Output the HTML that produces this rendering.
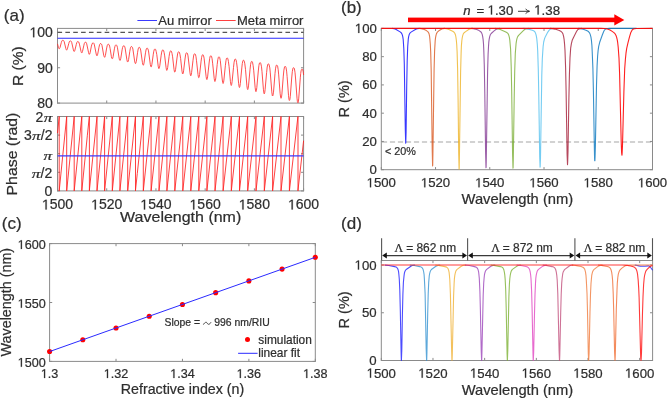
<!DOCTYPE html>
<html><head><meta charset="utf-8"><style>
html,body{margin:0;padding:0;background:#fff;overflow:hidden;}
svg{display:block;will-change:transform;filter:blur(0.3px);}
text{stroke:#2e2e2e;stroke-width:0.22px;}
</style></head><body>
<svg width="668" height="399" viewBox="0 0 668 399"><text x="3.85" y="21.00" font-size="17" text-anchor="start" fill="#2e2e2e" font-family="'Liberation Sans', sans-serif" >(a)</text>
<line x1="137.40" y1="20.50" x2="157.00" y2="20.50" stroke="#3a3aff" stroke-width="1.0" />
<text x="158.30" y="25.20" font-size="13" text-anchor="start" fill="#2e2e2e" font-family="'Liberation Sans', sans-serif" >Au mirror</text>
<line x1="216.00" y1="20.50" x2="235.70" y2="20.50" stroke="#ff4040" stroke-width="1.0" />
<text x="237.00" y="25.20" font-size="13" text-anchor="start" fill="#2e2e2e" font-family="'Liberation Sans', sans-serif" >Meta mirror</text>
<line x1="57.50" y1="103.10" x2="303.60" y2="103.10" stroke="#8a8a8a" stroke-width="1.0" />
<line x1="57.50" y1="103.60" x2="57.50" y2="27.90" stroke="#8a8a8a" stroke-width="1.0" />
<line x1="303.60" y1="103.60" x2="303.60" y2="27.90" stroke="#8a8a8a" stroke-width="1.0" />
<line x1="57.50" y1="28.40" x2="303.60" y2="28.40" stroke="#8a8a8a" stroke-width="1.0" />
<line x1="57.50" y1="103.10" x2="57.50" y2="100.50" stroke="#8a8a8a" stroke-width="1.0" />
<line x1="57.50" y1="28.40" x2="57.50" y2="31.00" stroke="#8a8a8a" stroke-width="1.0" />
<line x1="106.72" y1="103.10" x2="106.72" y2="100.50" stroke="#8a8a8a" stroke-width="1.0" />
<line x1="106.72" y1="28.40" x2="106.72" y2="31.00" stroke="#8a8a8a" stroke-width="1.0" />
<line x1="155.94" y1="103.10" x2="155.94" y2="100.50" stroke="#8a8a8a" stroke-width="1.0" />
<line x1="155.94" y1="28.40" x2="155.94" y2="31.00" stroke="#8a8a8a" stroke-width="1.0" />
<line x1="205.16" y1="103.10" x2="205.16" y2="100.50" stroke="#8a8a8a" stroke-width="1.0" />
<line x1="205.16" y1="28.40" x2="205.16" y2="31.00" stroke="#8a8a8a" stroke-width="1.0" />
<line x1="254.38" y1="103.10" x2="254.38" y2="100.50" stroke="#8a8a8a" stroke-width="1.0" />
<line x1="254.38" y1="28.40" x2="254.38" y2="31.00" stroke="#8a8a8a" stroke-width="1.0" />
<line x1="303.60" y1="103.10" x2="303.60" y2="100.50" stroke="#8a8a8a" stroke-width="1.0" />
<line x1="303.60" y1="28.40" x2="303.60" y2="31.00" stroke="#8a8a8a" stroke-width="1.0" />
<line x1="57.50" y1="103.10" x2="60.10" y2="103.10" stroke="#8a8a8a" stroke-width="1.0" />
<line x1="303.60" y1="103.10" x2="301.00" y2="103.10" stroke="#8a8a8a" stroke-width="1.0" />
<line x1="57.50" y1="67.75" x2="60.10" y2="67.75" stroke="#8a8a8a" stroke-width="1.0" />
<line x1="303.60" y1="67.75" x2="301.00" y2="67.75" stroke="#8a8a8a" stroke-width="1.0" />
<line x1="57.50" y1="32.39" x2="60.10" y2="32.39" stroke="#8a8a8a" stroke-width="1.0" />
<line x1="303.60" y1="32.39" x2="301.00" y2="32.39" stroke="#8a8a8a" stroke-width="1.0" />
<line x1="57.50" y1="190.90" x2="303.60" y2="190.90" stroke="#8a8a8a" stroke-width="1.0" />
<line x1="57.50" y1="191.40" x2="57.50" y2="116.00" stroke="#8a8a8a" stroke-width="1.0" />
<line x1="303.60" y1="191.40" x2="303.60" y2="116.00" stroke="#8a8a8a" stroke-width="1.0" />
<line x1="57.50" y1="116.50" x2="303.60" y2="116.50" stroke="#8a8a8a" stroke-width="1.0" />
<line x1="57.50" y1="190.90" x2="57.50" y2="188.30" stroke="#8a8a8a" stroke-width="1.0" />
<line x1="57.50" y1="116.50" x2="57.50" y2="119.10" stroke="#8a8a8a" stroke-width="1.0" />
<line x1="106.72" y1="190.90" x2="106.72" y2="188.30" stroke="#8a8a8a" stroke-width="1.0" />
<line x1="106.72" y1="116.50" x2="106.72" y2="119.10" stroke="#8a8a8a" stroke-width="1.0" />
<line x1="155.94" y1="190.90" x2="155.94" y2="188.30" stroke="#8a8a8a" stroke-width="1.0" />
<line x1="155.94" y1="116.50" x2="155.94" y2="119.10" stroke="#8a8a8a" stroke-width="1.0" />
<line x1="205.16" y1="190.90" x2="205.16" y2="188.30" stroke="#8a8a8a" stroke-width="1.0" />
<line x1="205.16" y1="116.50" x2="205.16" y2="119.10" stroke="#8a8a8a" stroke-width="1.0" />
<line x1="254.38" y1="190.90" x2="254.38" y2="188.30" stroke="#8a8a8a" stroke-width="1.0" />
<line x1="254.38" y1="116.50" x2="254.38" y2="119.10" stroke="#8a8a8a" stroke-width="1.0" />
<line x1="303.60" y1="190.90" x2="303.60" y2="188.30" stroke="#8a8a8a" stroke-width="1.0" />
<line x1="303.60" y1="116.50" x2="303.60" y2="119.10" stroke="#8a8a8a" stroke-width="1.0" />
<line x1="57.50" y1="190.90" x2="60.10" y2="190.90" stroke="#8a8a8a" stroke-width="1.0" />
<line x1="303.60" y1="190.90" x2="301.00" y2="190.90" stroke="#8a8a8a" stroke-width="1.0" />
<line x1="57.50" y1="172.30" x2="60.10" y2="172.30" stroke="#8a8a8a" stroke-width="1.0" />
<line x1="303.60" y1="172.30" x2="301.00" y2="172.30" stroke="#8a8a8a" stroke-width="1.0" />
<line x1="57.50" y1="153.70" x2="60.10" y2="153.70" stroke="#8a8a8a" stroke-width="1.0" />
<line x1="303.60" y1="153.70" x2="301.00" y2="153.70" stroke="#8a8a8a" stroke-width="1.0" />
<line x1="57.50" y1="135.10" x2="60.10" y2="135.10" stroke="#8a8a8a" stroke-width="1.0" />
<line x1="303.60" y1="135.10" x2="301.00" y2="135.10" stroke="#8a8a8a" stroke-width="1.0" />
<line x1="57.50" y1="116.50" x2="60.10" y2="116.50" stroke="#8a8a8a" stroke-width="1.0" />
<line x1="303.60" y1="116.50" x2="301.00" y2="116.50" stroke="#8a8a8a" stroke-width="1.0" />
<line x1="57.5" y1="32.39" x2="303.6" y2="32.39" stroke="#555555" stroke-width="1.1" stroke-dasharray="4.6 3.26"/>
<line x1="57.50" y1="38.20" x2="303.60" y2="38.20" stroke="#2a2aff" stroke-width="1.1" />
<path d="M57.5,43.9L58.5,47.7L58.9,48.6L59.1,48.7L59.3,48.7L59.7,48.3L60.1,47.3L61.3,42.6L61.8,41.1L62.4,40.3L62.8,40.3L63.3,40.4L63.8,40.8L64.2,41.7L65.9,48.7L66.3,49.7L66.7,50.1L67.0,49.8L67.4,48.8L68.8,43.4L69.3,41.8L69.9,41.0L70.2,40.9L70.7,40.9L71.2,41.4L71.7,42.4L73.4,49.9L73.8,51.1L74.2,51.5L74.5,51.2L74.9,50.2L76.3,44.4L76.9,42.4L77.4,41.6L77.7,41.5L78.2,41.6L78.7,42.0L79.1,43.0L79.6,44.9L81.0,51.3L81.4,52.5L81.6,52.8L81.8,52.9L82.1,52.6L82.5,51.4L83.9,45.2L84.4,43.3L85.0,42.3L85.3,42.2L85.8,42.2L86.3,42.7L86.7,43.8L88.6,52.7L89.0,54.0L89.2,54.3L89.4,54.3L89.7,54.0L90.1,52.8L91.4,46.1L92.0,44.1L92.6,43.0L92.9,42.8L93.4,42.9L93.9,43.4L94.4,44.9L96.2,54.0L96.6,55.4L96.8,55.7L97.0,55.8L97.3,55.5L97.7,54.2L99.0,47.2L99.6,44.7L100.2,43.7L100.5,43.5L101.0,43.6L101.5,44.1L102.0,45.5L103.7,55.2L104.2,56.7L104.6,57.3L104.8,57.2L105.0,56.8L105.4,55.4L106.7,47.9L107.2,45.7L107.5,44.9L107.8,44.4L108.2,44.3L108.6,44.3L109.1,44.7L109.6,46.1L110.1,48.5L111.4,56.7L111.8,58.3L112.3,58.8L112.5,58.7L112.7,58.3L113.1,56.8L114.4,48.8L114.9,46.5L115.2,45.6L115.5,45.2L115.8,45.0L116.3,45.0L116.6,45.2L116.9,45.7L117.4,47.3L119.1,58.1L119.5,59.8L119.9,60.4L120.2,60.3L120.4,59.9L120.8,58.3L122.1,49.9L122.6,47.4L123.2,46.0L123.5,45.8L123.9,45.8L124.3,45.9L124.6,46.4L125.1,48.0L126.9,59.8L127.3,61.5L127.5,61.9L127.7,62.0L128.2,61.3L128.6,59.5L129.8,51.3L130.4,48.2L130.7,47.2L131.0,46.7L131.3,46.6L131.7,46.6L132.0,46.8L132.4,47.3L132.9,49.1L134.6,60.9L135.0,62.8L135.4,63.6L135.6,63.5L135.8,63.1L136.3,61.5L137.6,52.3L138.2,49.0L138.5,48.1L138.8,47.5L139.1,47.4L139.5,47.4L139.8,47.6L140.1,48.1L140.7,50.0L142.4,62.4L142.8,64.4L143.2,65.2L143.4,65.2L143.6,64.8L144.0,63.1L145.5,52.8L146.0,50.0L146.3,49.0L146.6,48.4L146.9,48.2L147.3,48.2L147.6,48.4L147.9,48.9L148.5,50.9L150.3,64.4L150.7,66.3L150.9,66.8L151.1,66.9L151.3,66.8L151.5,66.2L151.9,64.3L153.3,54.2L153.8,51.2L154.4,49.4L154.7,49.1L155.1,49.1L155.4,49.2L155.7,49.7L156.2,51.5L156.8,54.7L158.2,66.2L158.6,68.1L158.8,68.5L159.0,68.6L159.4,67.8L159.8,65.7L161.2,55.2L161.7,52.1L162.3,50.2L162.6,50.0L163.0,50.0L163.3,50.1L163.6,50.6L164.1,52.5L164.7,55.9L166.1,67.8L166.5,69.8L166.7,70.3L166.9,70.4L167.3,69.5L167.7,67.4L169.1,56.4L169.6,53.2L170.2,51.2L170.5,50.9L170.9,50.9L171.2,51.0L171.5,51.5L172.0,53.4L172.6,56.8L174.0,69.2L174.4,71.4L174.6,72.0L174.8,72.2L175.0,72.0L175.2,71.4L175.6,69.3L177.0,58.0L177.6,53.9L177.9,52.7L178.2,52.1L178.5,51.8L178.9,51.8L179.2,52.0L179.5,52.6L180.0,54.7L180.6,58.4L182.0,71.2L182.4,73.3L182.6,73.8L182.8,74.0L183.2,73.1L183.6,70.8L185.0,59.0L185.6,54.9L185.9,53.7L186.2,53.0L186.5,52.8L186.9,52.8L187.2,53.0L187.5,53.6L188.0,55.9L190.0,72.9L190.4,75.1L190.6,75.7L190.8,75.8L191.0,75.5L191.2,74.9L191.6,72.5L193.0,60.3L193.6,56.0L193.9,54.7L194.2,54.0L194.5,53.8L194.9,53.8L195.2,54.0L195.5,54.6L196.0,56.8L196.5,60.7L198.0,74.5L198.4,76.8L198.6,77.5L198.8,77.7L199.0,77.5L199.2,76.9L199.6,74.5L201.1,61.1L201.6,57.4L202.2,55.1L202.5,54.8L202.9,54.8L203.2,54.9L203.5,55.5L204.1,58.2L206.1,76.5L206.5,78.9L206.7,79.4L206.9,79.6L207.1,79.3L207.3,78.6L207.7,76.1L209.1,63.0L209.7,58.4L210.0,57.0L210.3,56.1L210.6,55.8L211.0,55.8L211.3,56.0L211.6,56.6L212.1,58.8L212.7,63.8L214.2,78.4L214.6,80.8L214.8,81.4L215.0,81.5L215.2,81.2L215.4,80.5L215.8,77.9L217.2,64.5L217.8,59.6L218.4,57.3L218.7,56.9L219.1,56.9L219.4,57.1L219.7,57.6L220.3,60.5L222.3,80.0L222.7,82.6L222.9,83.3L223.1,83.5L223.3,83.3L223.5,82.6L223.9,80.1L225.4,65.3L226.0,60.5L226.3,59.1L226.6,58.3L226.9,58.0L227.3,58.0L227.6,58.2L227.9,58.9L228.4,61.4L229.1,66.7L230.4,81.3L230.9,84.7L231.1,85.3L231.3,85.5L231.5,85.2L231.7,84.4L232.1,81.7L233.5,67.4L234.1,62.2L234.7,59.6L235.0,59.1L235.4,59.1L235.8,59.4L236.1,60.1L236.6,62.7L237.3,68.2L238.6,83.3L239.1,86.7L239.3,87.4L239.5,87.5L239.7,87.2L239.9,86.4L240.3,83.6L241.8,67.9L242.3,63.5L242.9,60.8L243.2,60.3L243.7,60.3L244.0,60.5L244.3,61.2L244.8,63.8L245.5,69.4L246.9,85.9L247.3,88.6L247.5,89.4L247.7,89.6L247.9,89.4L248.1,88.7L248.5,85.9L250.0,69.8L250.6,64.4L251.2,61.8L251.5,61.5L251.9,61.4L252.2,61.6L252.5,62.2L253.1,65.4L253.7,70.2L255.1,87.2L255.6,90.9L255.8,91.5L256.0,91.7L256.2,91.4L256.4,90.6L256.8,87.6L258.3,71.0L258.9,65.6L259.2,64.0L259.5,63.0L259.8,62.7L260.2,62.6L260.5,62.9L260.8,63.5L261.5,66.8L262.0,71.7L263.4,89.2L263.9,93.0L264.1,93.7L264.3,93.9L264.5,93.5L264.7,92.7L265.1,89.7L266.6,72.7L267.2,67.0L267.8,64.3L268.1,63.9L268.5,63.9L268.8,64.1L269.1,64.7L269.8,67.9L270.3,72.9L271.8,91.9L272.2,94.9L272.4,95.8L272.6,96.0L272.8,95.8L273.0,95.1L273.5,92.2L275.0,73.6L275.5,68.8L276.1,65.7L276.4,65.2L276.9,65.2L277.2,65.4L277.6,66.1L278.2,69.7L278.7,74.9L280.1,93.3L280.6,97.3L280.8,98.0L281.0,98.3L281.2,98.0L281.5,97.1L281.9,94.1L283.3,76.1L283.9,70.1L284.5,67.0L284.8,66.5L285.3,66.5L285.7,66.7L286.0,67.5L286.6,71.1L287.1,76.5L288.5,95.4L289.0,99.5L289.2,100.3L289.4,100.5L289.7,100.2L289.9,99.4L290.3,96.3L291.7,78.0L292.3,71.7L292.9,68.4L293.2,67.8L293.8,67.8L294.1,68.0L294.4,68.7L295.0,72.3L295.6,79.0L297.0,98.2L297.4,101.5L297.7,102.4L297.9,102.8L298.1,102.6L298.3,101.9L298.7,98.9L300.3,77.8L300.7,73.6L301.1,70.8L301.4,69.7L301.8,69.2L302.3,69.1L302.6,69.4L303.1,71.1L303.6,75.0" fill="none" stroke="#ff3030" stroke-width="1.0" stroke-linejoin="round" stroke-opacity="0.85"/>
<path d="M57.5,133.1L59.2,116.5L59.2,190.9L66.7,116.5L66.7,190.9L74.2,116.5L74.2,190.9L81.8,116.5L81.8,190.9L87.3,135.8L89.3,116.7L89.4,116.5L89.4,190.9L89.4,190.1L97.0,116.5L97.0,190.9L104.6,116.5L104.6,190.9L112.3,116.5L112.3,190.9L119.9,116.5L119.9,190.9L127.7,116.5L127.7,190.9L135.4,116.7L135.5,116.5L135.5,190.9L135.5,190.1L137.3,173.4L143.3,116.5L143.3,190.9L151.1,116.5L151.1,190.9L159.0,116.5L159.0,190.9L166.9,116.5L166.9,190.9L174.8,116.5L174.8,190.9L182.8,116.5L182.8,190.9L190.8,116.5L190.8,190.9L198.8,116.5L198.8,190.9L206.9,116.5L206.9,190.9L215.0,116.5L215.0,190.9L223.1,116.5L223.1,190.9L231.3,116.5L231.3,190.9L239.5,116.5L239.5,190.9L247.7,116.5L247.7,190.9L256.0,116.5L256.0,190.9L264.3,116.5L264.3,190.9L272.6,116.5L272.6,190.9L281.0,116.5L281.0,190.9L289.4,116.5L289.4,190.9L297.9,116.6L298.0,116.5L298.0,190.9L298.0,190.1L303.6,140.7" fill="none" stroke="#ff2020" stroke-width="1.0" stroke-linejoin="round" stroke-opacity="0.85"/>
<line x1="57.50" y1="155.90" x2="303.60" y2="155.90" stroke="#3a3aff" stroke-width="1.3" />
<text x="52.90" y="107.92" font-size="14" text-anchor="end" fill="#2e2e2e" font-family="'Liberation Sans', sans-serif" >80</text>
<text x="52.90" y="72.56" font-size="14" text-anchor="end" fill="#2e2e2e" font-family="'Liberation Sans', sans-serif" >90</text>
<text x="29.54" y="37.21" font-size="14" fill="#2e2e2e" font-family="'Liberation Sans', sans-serif"> 00</text>
<path d="M515,0L515,1237L197,1010L197,1180L530,1409L696,1409L696,0Z" transform="translate(29.54 37.21) scale(0.00684 -0.00684)" fill="#2e2e2e" stroke="#2e2e2e" stroke-width="32.2"/>
<text x="43.70" y="121.70" font-size="13.5" fill="#2e2e2e" font-family="'Liberation Serif', serif" font-style="italic" textLength="8.60" lengthAdjust="spacingAndGlyphs">π</text>
<text x="35.61" y="121.70" font-size="14" fill="#2e2e2e" font-family="'Liberation Sans', sans-serif">2</text>
<text x="40.82" y="140.20" font-size="14" fill="#2e2e2e" font-family="'Liberation Sans', sans-serif">/2</text>
<text x="32.02" y="140.20" font-size="13.5" fill="#2e2e2e" font-family="'Liberation Serif', serif" font-style="italic" textLength="8.60" lengthAdjust="spacingAndGlyphs">π</text>
<text x="23.94" y="140.20" font-size="14" fill="#2e2e2e" font-family="'Liberation Sans', sans-serif">3</text>
<text x="43.50" y="159.60" font-size="13.5" fill="#2e2e2e" font-family="'Liberation Serif', serif" font-style="italic" textLength="8.60" lengthAdjust="spacingAndGlyphs">π</text>
<text x="40.52" y="178.30" font-size="14" fill="#2e2e2e" font-family="'Liberation Sans', sans-serif">/2</text>
<text x="31.72" y="178.30" font-size="13.5" fill="#2e2e2e" font-family="'Liberation Serif', serif" font-style="italic" textLength="8.60" lengthAdjust="spacingAndGlyphs">π</text>
<text x="44.41" y="196.20" font-size="14" fill="#2e2e2e" font-family="'Liberation Sans', sans-serif">0</text>
<text x="41.93" y="209.40" font-size="14" fill="#2e2e2e" font-family="'Liberation Sans', sans-serif"> 500</text>
<path d="M515,0L515,1237L197,1010L197,1180L530,1409L696,1409L696,0Z" transform="translate(41.93 209.40) scale(0.00684 -0.00684)" fill="#2e2e2e" stroke="#2e2e2e" stroke-width="32.2"/>
<text x="91.15" y="209.40" font-size="14" fill="#2e2e2e" font-family="'Liberation Sans', sans-serif"> 520</text>
<path d="M515,0L515,1237L197,1010L197,1180L530,1409L696,1409L696,0Z" transform="translate(91.15 209.40) scale(0.00684 -0.00684)" fill="#2e2e2e" stroke="#2e2e2e" stroke-width="32.2"/>
<text x="140.37" y="209.40" font-size="14" fill="#2e2e2e" font-family="'Liberation Sans', sans-serif"> 540</text>
<path d="M515,0L515,1237L197,1010L197,1180L530,1409L696,1409L696,0Z" transform="translate(140.37 209.40) scale(0.00684 -0.00684)" fill="#2e2e2e" stroke="#2e2e2e" stroke-width="32.2"/>
<text x="189.59" y="209.40" font-size="14" fill="#2e2e2e" font-family="'Liberation Sans', sans-serif"> 560</text>
<path d="M515,0L515,1237L197,1010L197,1180L530,1409L696,1409L696,0Z" transform="translate(189.59 209.40) scale(0.00684 -0.00684)" fill="#2e2e2e" stroke="#2e2e2e" stroke-width="32.2"/>
<text x="238.81" y="209.40" font-size="14" fill="#2e2e2e" font-family="'Liberation Sans', sans-serif"> 580</text>
<path d="M515,0L515,1237L197,1010L197,1180L530,1409L696,1409L696,0Z" transform="translate(238.81 209.40) scale(0.00684 -0.00684)" fill="#2e2e2e" stroke="#2e2e2e" stroke-width="32.2"/>
<text x="288.03" y="209.40" font-size="14" fill="#2e2e2e" font-family="'Liberation Sans', sans-serif"> 600</text>
<path d="M515,0L515,1237L197,1010L197,1180L530,1409L696,1409L696,0Z" transform="translate(288.03 209.40) scale(0.00684 -0.00684)" fill="#2e2e2e" stroke="#2e2e2e" stroke-width="32.2"/>
<text x="120.12" y="222.30" font-size="15" fill="#2e2e2e" font-family="'Liberation Sans', sans-serif" textLength="121.13" lengthAdjust="spacingAndGlyphs">Wavelength (nm)</text>
<text x="0" y="0" font-size="15" fill="#2e2e2e" font-family="'Liberation Sans', sans-serif" textLength="39.72" lengthAdjust="spacingAndGlyphs" transform="translate(22.60 85.98) rotate(-90)">R (%)</text>
<text x="0" y="0" font-size="15" fill="#2e2e2e" font-family="'Liberation Sans', sans-serif" textLength="82.86" lengthAdjust="spacingAndGlyphs" transform="translate(17.40 195.51) rotate(-90)">Phase (rad)</text>
<text x="341.00" y="13.00" font-size="17" text-anchor="start" fill="#2e2e2e" font-family="'Liberation Sans', sans-serif" >(b)</text>
<line x1="381.9" y1="142.0" x2="652.5" y2="142.0" stroke="#c4c4c4" stroke-width="1.3" stroke-dasharray="5.2 2.8"/>
<text x="385.00" y="155.30" font-size="10.8" text-anchor="start" fill="#2e2e2e" font-family="'Liberation Sans', sans-serif" >&lt; 20%</text>
<line x1="381.30" y1="169.70" x2="652.50" y2="169.70" stroke="#8a8a8a" stroke-width="1.0" />
<line x1="381.30" y1="170.20" x2="381.30" y2="27.90" stroke="#8a8a8a" stroke-width="1.0" />
<line x1="652.50" y1="170.20" x2="652.50" y2="27.90" stroke="#8a8a8a" stroke-width="1.0" />
<line x1="381.30" y1="28.40" x2="652.50" y2="28.40" stroke="#8a8a8a" stroke-width="1.0" />
<line x1="381.30" y1="169.70" x2="381.30" y2="167.10" stroke="#8a8a8a" stroke-width="1.0" />
<line x1="381.30" y1="28.40" x2="381.30" y2="31.00" stroke="#8a8a8a" stroke-width="1.0" />
<line x1="435.54" y1="169.70" x2="435.54" y2="167.10" stroke="#8a8a8a" stroke-width="1.0" />
<line x1="435.54" y1="28.40" x2="435.54" y2="31.00" stroke="#8a8a8a" stroke-width="1.0" />
<line x1="489.78" y1="169.70" x2="489.78" y2="167.10" stroke="#8a8a8a" stroke-width="1.0" />
<line x1="489.78" y1="28.40" x2="489.78" y2="31.00" stroke="#8a8a8a" stroke-width="1.0" />
<line x1="544.02" y1="169.70" x2="544.02" y2="167.10" stroke="#8a8a8a" stroke-width="1.0" />
<line x1="544.02" y1="28.40" x2="544.02" y2="31.00" stroke="#8a8a8a" stroke-width="1.0" />
<line x1="598.26" y1="169.70" x2="598.26" y2="167.10" stroke="#8a8a8a" stroke-width="1.0" />
<line x1="598.26" y1="28.40" x2="598.26" y2="31.00" stroke="#8a8a8a" stroke-width="1.0" />
<line x1="652.50" y1="169.70" x2="652.50" y2="167.10" stroke="#8a8a8a" stroke-width="1.0" />
<line x1="652.50" y1="28.40" x2="652.50" y2="31.00" stroke="#8a8a8a" stroke-width="1.0" />
<line x1="381.30" y1="169.70" x2="383.90" y2="169.70" stroke="#8a8a8a" stroke-width="1.0" />
<line x1="652.50" y1="169.70" x2="649.90" y2="169.70" stroke="#8a8a8a" stroke-width="1.0" />
<line x1="381.30" y1="141.44" x2="383.90" y2="141.44" stroke="#8a8a8a" stroke-width="1.0" />
<line x1="652.50" y1="141.44" x2="649.90" y2="141.44" stroke="#8a8a8a" stroke-width="1.0" />
<line x1="381.30" y1="113.18" x2="383.90" y2="113.18" stroke="#8a8a8a" stroke-width="1.0" />
<line x1="652.50" y1="113.18" x2="649.90" y2="113.18" stroke="#8a8a8a" stroke-width="1.0" />
<line x1="381.30" y1="84.92" x2="383.90" y2="84.92" stroke="#8a8a8a" stroke-width="1.0" />
<line x1="652.50" y1="84.92" x2="649.90" y2="84.92" stroke="#8a8a8a" stroke-width="1.0" />
<line x1="381.30" y1="56.66" x2="383.90" y2="56.66" stroke="#8a8a8a" stroke-width="1.0" />
<line x1="652.50" y1="56.66" x2="649.90" y2="56.66" stroke="#8a8a8a" stroke-width="1.0" />
<line x1="381.30" y1="28.40" x2="383.90" y2="28.40" stroke="#8a8a8a" stroke-width="1.0" />
<line x1="652.50" y1="28.40" x2="649.90" y2="28.40" stroke="#8a8a8a" stroke-width="1.0" />
<path d="M392.3,28.4L394.2,28.7L395.7,29.2L400.1,31.9L401.2,32.8L401.9,33.9L402.4,35.2L402.8,36.9L403.2,39.5L403.8,48.5L404.3,64.0L405.3,129.4L405.7,143.2L405.8,142.2L406.1,131.7L406.7,86.5L407.2,60.4L407.7,46.7L408.3,38.8L408.7,36.4L409.2,34.6L409.7,33.5L410.4,32.6L411.4,31.9L415.8,29.2L417.3,28.7L419.2,28.4" fill="none" stroke="#0000ff" stroke-width="1.1" stroke-linejoin="round" stroke-opacity="0.78"/>
<path d="M419.3,28.4L421.3,28.6L423.2,29.1L426.4,30.6L427.8,31.6L428.6,32.7L429.1,34.0L429.6,36.3L429.9,39.2L430.3,44.0L430.7,51.9L431.2,71.1L432.2,148.9L432.6,166.0L432.7,165.3L432.9,154.1L434.1,68.9L434.6,51.1L435.2,40.6L435.6,37.4L436.1,34.9L436.6,33.4L437.3,32.2L438.8,30.8L441.4,29.2L442.9,28.6L444.9,28.4" fill="none" stroke="#d95319" stroke-width="1.1" stroke-linejoin="round" stroke-opacity="0.78"/>
<path d="M444.3,28.4L446.4,28.7L448.3,29.2L452.7,31.3L454.1,32.2L454.8,33.2L455.4,34.7L455.9,37.0L456.3,39.8L456.7,44.2L457.1,51.5L457.6,68.9L458.1,100.3L458.7,153.3L459.1,169.2L459.2,168.3L459.4,157.2L460.6,72.2L461.1,53.6L461.4,45.7L461.8,41.0L462.2,38.0L462.7,35.6L463.3,33.9L464.1,32.8L465.6,31.6L469.1,29.3L470.7,28.7L472.8,28.4" fill="none" stroke="#edb120" stroke-width="1.1" stroke-linejoin="round" stroke-opacity="0.78"/>
<path d="M471.2,28.4L473.5,28.6L475.5,29.1L479.1,30.6L480.7,31.7L481.6,32.9L482.2,34.4L482.7,36.7L483.1,39.4L483.5,43.7L483.8,50.5L484.3,66.1L484.8,93.7L485.6,152.5L486.0,167.7L486.1,167.3L486.3,158.3L487.6,71.6L488.1,54.3L488.5,46.8L488.8,42.1L489.2,39.1L489.7,36.6L490.3,34.8L491.2,33.5L494.1,30.9L496.2,29.3L497.8,28.7L500.0,28.4" fill="none" stroke="#7e2f8e" stroke-width="1.1" stroke-linejoin="round" stroke-opacity="0.78"/>
<path d="M495.2,28.4L497.6,28.7L499.7,29.2L505.8,32.0L507.2,32.8L508.1,33.7L508.8,35.3L509.3,37.1L509.8,40.1L510.6,49.3L511.2,66.4L511.7,91.5L512.6,154.9L513.0,168.2L513.1,167.7L513.3,159.4L514.2,98.0L514.7,71.6L515.3,53.3L516.1,43.3L516.6,40.1L517.1,38.1L517.7,36.6L518.6,35.4L523.1,30.8L524.6,29.5L525.5,29.0L526.3,28.7L528.6,28.4" fill="none" stroke="#77ac30" stroke-width="1.1" stroke-linejoin="round" stroke-opacity="0.78"/>
<path d="M522.8,28.4L525.6,28.6L528.2,29.1L532.3,30.3L534.1,31.1L535.1,32.2L535.8,33.9L536.3,35.8L536.8,38.9L537.3,44.3L537.7,50.8L538.3,69.9L538.8,96.4L539.7,156.8L540.1,167.2L540.2,166.1L540.5,157.8L541.8,74.7L542.3,59.0L543.1,46.8L543.7,42.0L544.5,38.8L545.5,36.4L547.8,32.1L549.2,30.1L550.5,29.0L551.8,28.6L554.1,28.4" fill="none" stroke="#4dbeee" stroke-width="1.1" stroke-linejoin="round" stroke-opacity="0.78"/>
<path d="M550.0,28.4L552.6,28.6L555.0,29.1L559.3,30.5L561.2,31.5L562.2,32.6L563.0,34.1L563.6,36.3L564.1,39.4L564.6,44.5L565.0,50.5L565.6,67.6L566.1,91.0L567.1,154.6L567.5,164.6L567.7,161.4L568.0,151.4L568.9,97.8L569.4,74.9L570.0,57.9L570.7,47.8L571.4,43.6L572.2,40.3L573.4,37.7L576.5,31.5L577.6,29.9L578.7,29.0L580.0,28.6L582.1,28.4" fill="none" stroke="#a2142f" stroke-width="1.1" stroke-linejoin="round" stroke-opacity="0.78"/>
<path d="M578.2,28.4L581.0,28.6L583.2,29.2L586.6,30.5L588.5,31.6L589.5,32.8L590.2,34.4L590.9,36.9L591.4,40.1L591.9,45.4L592.2,51.5L592.9,68.4L593.4,90.8L594.4,150.2L594.6,158.8L594.7,160.7L594.9,160.8L595.1,155.9L595.4,145.6L596.5,85.5L597.1,65.6L597.6,56.3L598.1,50.6L598.7,46.3L599.7,42.3L602.4,34.8L603.6,31.7L604.2,30.5L604.9,29.7L605.5,29.1L606.1,28.8L607.4,28.5L609.9,28.4L636.6,28.4" fill="none" stroke="#0072bd" stroke-width="1.1" stroke-linejoin="round" stroke-opacity="0.78"/>
<path d="M381.3,28.4L601.0,28.4L604.4,28.5L606.4,28.7L608.1,29.2L610.0,30.0L612.2,31.4L613.9,32.6L615.0,33.7L615.9,35.2L616.6,37.1L617.2,39.7L617.7,42.7L618.2,47.2L619.0,58.3L619.6,73.8L621.2,141.8L621.6,152.6L621.9,155.2L622.0,155.0L622.1,153.9L622.5,145.3L623.9,91.4L624.7,68.8L625.4,59.3L626.0,53.2L626.7,48.4L627.9,43.1L629.5,36.8L630.7,32.8L631.9,30.4L632.5,29.6L633.1,29.1L634.4,28.7L636.6,28.5L652.5,28.4" fill="none" stroke="#ff0000" stroke-width="1.1" stroke-linejoin="round" stroke-opacity="0.88"/>
<text x="376.90" y="174.24" font-size="13.2" text-anchor="end" fill="#2e2e2e" font-family="'Liberation Sans', sans-serif" >0</text>
<text x="376.90" y="145.98" font-size="13.2" text-anchor="end" fill="#2e2e2e" font-family="'Liberation Sans', sans-serif" >20</text>
<text x="376.90" y="117.72" font-size="13.2" text-anchor="end" fill="#2e2e2e" font-family="'Liberation Sans', sans-serif" >40</text>
<text x="376.90" y="89.46" font-size="13.2" text-anchor="end" fill="#2e2e2e" font-family="'Liberation Sans', sans-serif" >60</text>
<text x="376.90" y="61.20" font-size="13.2" text-anchor="end" fill="#2e2e2e" font-family="'Liberation Sans', sans-serif" >80</text>
<text x="354.88" y="32.94" font-size="13.2" fill="#2e2e2e" font-family="'Liberation Sans', sans-serif"> 00</text>
<path d="M515,0L515,1237L197,1010L197,1180L530,1409L696,1409L696,0Z" transform="translate(354.88 32.94) scale(0.00645 -0.00645)" fill="#2e2e2e" stroke="#2e2e2e" stroke-width="34.1"/>
<text x="366.62" y="187.30" font-size="13.2" fill="#2e2e2e" font-family="'Liberation Sans', sans-serif"> 500</text>
<path d="M515,0L515,1237L197,1010L197,1180L530,1409L696,1409L696,0Z" transform="translate(366.62 187.30) scale(0.00645 -0.00645)" fill="#2e2e2e" stroke="#2e2e2e" stroke-width="34.1"/>
<text x="420.86" y="187.30" font-size="13.2" fill="#2e2e2e" font-family="'Liberation Sans', sans-serif"> 520</text>
<path d="M515,0L515,1237L197,1010L197,1180L530,1409L696,1409L696,0Z" transform="translate(420.86 187.30) scale(0.00645 -0.00645)" fill="#2e2e2e" stroke="#2e2e2e" stroke-width="34.1"/>
<text x="475.10" y="187.30" font-size="13.2" fill="#2e2e2e" font-family="'Liberation Sans', sans-serif"> 540</text>
<path d="M515,0L515,1237L197,1010L197,1180L530,1409L696,1409L696,0Z" transform="translate(475.10 187.30) scale(0.00645 -0.00645)" fill="#2e2e2e" stroke="#2e2e2e" stroke-width="34.1"/>
<text x="529.34" y="187.30" font-size="13.2" fill="#2e2e2e" font-family="'Liberation Sans', sans-serif"> 560</text>
<path d="M515,0L515,1237L197,1010L197,1180L530,1409L696,1409L696,0Z" transform="translate(529.34 187.30) scale(0.00645 -0.00645)" fill="#2e2e2e" stroke="#2e2e2e" stroke-width="34.1"/>
<text x="583.58" y="187.30" font-size="13.2" fill="#2e2e2e" font-family="'Liberation Sans', sans-serif"> 580</text>
<path d="M515,0L515,1237L197,1010L197,1180L530,1409L696,1409L696,0Z" transform="translate(583.58 187.30) scale(0.00645 -0.00645)" fill="#2e2e2e" stroke="#2e2e2e" stroke-width="34.1"/>
<text x="637.82" y="187.30" font-size="13.2" fill="#2e2e2e" font-family="'Liberation Sans', sans-serif"> 600</text>
<path d="M515,0L515,1237L197,1010L197,1180L530,1409L696,1409L696,0Z" transform="translate(637.82 187.30) scale(0.00645 -0.00645)" fill="#2e2e2e" stroke="#2e2e2e" stroke-width="34.1"/>
<text x="461.53" y="203.80" font-size="13.9" fill="#2e2e2e" font-family="'Liberation Sans', sans-serif" textLength="111.65" lengthAdjust="spacingAndGlyphs">Wavelength (nm)</text>
<text x="0" y="0" font-size="13.9" fill="#2e2e2e" font-family="'Liberation Sans', sans-serif" textLength="37.07" lengthAdjust="spacingAndGlyphs" transform="translate(349.30 117.40) rotate(-90)">R (%)</text>
<rect x="408" y="17.6" width="207" height="4.6" fill="#ff0000"/>
<polygon points="614.3,14.2 624.3,19.9 614.3,25.6" fill="#ff0000"/>
<text x="463.30" y="14.50" font-size="13.2" text-anchor="start" fill="#2e2e2e" font-family="'Liberation Sans', sans-serif" font-style="italic">n</text>
<text x="476.60" y="14.50" font-size="13.2" text-anchor="start" fill="#2e2e2e" font-family="'Liberation Sans', sans-serif" >=</text>
<text x="487.60" y="14.50" font-size="13.2" fill="#2e2e2e" font-family="'Liberation Sans', sans-serif"> .30</text>
<path d="M515,0L515,1237L197,1010L197,1180L530,1409L696,1409L696,0Z" transform="translate(487.60 14.50) scale(0.00645 -0.00645)" fill="#2e2e2e" stroke="#2e2e2e" stroke-width="34.1"/>
<path d="M518,11.3 L529.3,11.3 M525.6,9.0 Q527.5,10.8 529.5,11.3 Q527.5,11.8 525.6,13.6" fill="none" stroke="#262626" stroke-width="0.9"/>
<text x="534.20" y="14.50" font-size="13.3" fill="#2e2e2e" font-family="'Liberation Sans', sans-serif"> .38</text>
<path d="M515,0L515,1237L197,1010L197,1180L530,1409L696,1409L696,0Z" transform="translate(534.20 14.50) scale(0.00649 -0.00649)" fill="#2e2e2e" stroke="#2e2e2e" stroke-width="33.9"/>
<text x="1.75" y="229.15" font-size="17" text-anchor="start" fill="#2e2e2e" font-family="'Liberation Sans', sans-serif" >(c)</text>
<line x1="49.60" y1="361.40" x2="315.30" y2="361.40" stroke="#8a8a8a" stroke-width="1.0" />
<line x1="49.60" y1="361.90" x2="49.60" y2="243.10" stroke="#8a8a8a" stroke-width="1.0" />
<line x1="315.30" y1="361.90" x2="315.30" y2="243.10" stroke="#8a8a8a" stroke-width="1.0" />
<line x1="49.60" y1="243.60" x2="315.30" y2="243.60" stroke="#8a8a8a" stroke-width="1.0" />
<line x1="49.60" y1="361.40" x2="49.60" y2="358.80" stroke="#8a8a8a" stroke-width="1.0" />
<line x1="49.60" y1="243.60" x2="49.60" y2="246.20" stroke="#8a8a8a" stroke-width="1.0" />
<line x1="116.03" y1="361.40" x2="116.03" y2="358.80" stroke="#8a8a8a" stroke-width="1.0" />
<line x1="116.03" y1="243.60" x2="116.03" y2="246.20" stroke="#8a8a8a" stroke-width="1.0" />
<line x1="182.45" y1="361.40" x2="182.45" y2="358.80" stroke="#8a8a8a" stroke-width="1.0" />
<line x1="182.45" y1="243.60" x2="182.45" y2="246.20" stroke="#8a8a8a" stroke-width="1.0" />
<line x1="248.88" y1="361.40" x2="248.88" y2="358.80" stroke="#8a8a8a" stroke-width="1.0" />
<line x1="248.88" y1="243.60" x2="248.88" y2="246.20" stroke="#8a8a8a" stroke-width="1.0" />
<line x1="315.30" y1="361.40" x2="315.30" y2="358.80" stroke="#8a8a8a" stroke-width="1.0" />
<line x1="315.30" y1="243.60" x2="315.30" y2="246.20" stroke="#8a8a8a" stroke-width="1.0" />
<line x1="49.60" y1="361.40" x2="52.20" y2="361.40" stroke="#8a8a8a" stroke-width="1.0" />
<line x1="315.30" y1="361.40" x2="312.70" y2="361.40" stroke="#8a8a8a" stroke-width="1.0" />
<line x1="49.60" y1="302.50" x2="52.20" y2="302.50" stroke="#8a8a8a" stroke-width="1.0" />
<line x1="315.30" y1="302.50" x2="312.70" y2="302.50" stroke="#8a8a8a" stroke-width="1.0" />
<line x1="49.60" y1="243.60" x2="52.20" y2="243.60" stroke="#8a8a8a" stroke-width="1.0" />
<line x1="315.30" y1="243.60" x2="312.70" y2="243.60" stroke="#8a8a8a" stroke-width="1.0" />
<circle cx="49.60" cy="351.56" r="2.55" fill="#ff0000"/>
<circle cx="82.81" cy="339.78" r="2.55" fill="#ff0000"/>
<circle cx="116.03" cy="328.00" r="2.55" fill="#ff0000"/>
<circle cx="149.24" cy="316.22" r="2.55" fill="#ff0000"/>
<circle cx="182.45" cy="304.44" r="2.55" fill="#ff0000"/>
<circle cx="215.66" cy="292.66" r="2.55" fill="#ff0000"/>
<circle cx="248.88" cy="280.88" r="2.55" fill="#ff0000"/>
<circle cx="282.09" cy="269.10" r="2.55" fill="#ff0000"/>
<circle cx="315.30" cy="257.32" r="2.55" fill="#ff0000"/>
<line x1="49.60" y1="351.56" x2="315.30" y2="257.32" stroke="#2a2aff" stroke-width="1.0" />
<text x="17.67" y="366.73" font-size="12.6" fill="#2e2e2e" font-family="'Liberation Sans', sans-serif"> 500</text>
<path d="M515,0L515,1237L197,1010L197,1180L530,1409L696,1409L696,0Z" transform="translate(17.67 366.73) scale(0.00615 -0.00615)" fill="#2e2e2e" stroke="#2e2e2e" stroke-width="35.8"/>
<text x="17.67" y="307.83" font-size="12.6" fill="#2e2e2e" font-family="'Liberation Sans', sans-serif"> 550</text>
<path d="M515,0L515,1237L197,1010L197,1180L530,1409L696,1409L696,0Z" transform="translate(17.67 307.83) scale(0.00615 -0.00615)" fill="#2e2e2e" stroke="#2e2e2e" stroke-width="35.8"/>
<text x="17.67" y="248.93" font-size="12.6" fill="#2e2e2e" font-family="'Liberation Sans', sans-serif"> 600</text>
<path d="M515,0L515,1237L197,1010L197,1180L530,1409L696,1409L696,0Z" transform="translate(17.67 248.93) scale(0.00615 -0.00615)" fill="#2e2e2e" stroke="#2e2e2e" stroke-width="35.8"/>
<text x="40.84" y="378.00" font-size="12.6" fill="#2e2e2e" font-family="'Liberation Sans', sans-serif"> .3</text>
<path d="M515,0L515,1237L197,1010L197,1180L530,1409L696,1409L696,0Z" transform="translate(40.84 378.00) scale(0.00615 -0.00615)" fill="#2e2e2e" stroke="#2e2e2e" stroke-width="35.8"/>
<text x="103.76" y="378.00" font-size="12.6" fill="#2e2e2e" font-family="'Liberation Sans', sans-serif"> .32</text>
<path d="M515,0L515,1237L197,1010L197,1180L530,1409L696,1409L696,0Z" transform="translate(103.76 378.00) scale(0.00615 -0.00615)" fill="#2e2e2e" stroke="#2e2e2e" stroke-width="35.8"/>
<text x="170.19" y="378.00" font-size="12.6" fill="#2e2e2e" font-family="'Liberation Sans', sans-serif"> .34</text>
<path d="M515,0L515,1237L197,1010L197,1180L530,1409L696,1409L696,0Z" transform="translate(170.19 378.00) scale(0.00615 -0.00615)" fill="#2e2e2e" stroke="#2e2e2e" stroke-width="35.8"/>
<text x="236.61" y="378.00" font-size="12.6" fill="#2e2e2e" font-family="'Liberation Sans', sans-serif"> .36</text>
<path d="M515,0L515,1237L197,1010L197,1180L530,1409L696,1409L696,0Z" transform="translate(236.61 378.00) scale(0.00615 -0.00615)" fill="#2e2e2e" stroke="#2e2e2e" stroke-width="35.8"/>
<text x="303.04" y="378.00" font-size="12.6" fill="#2e2e2e" font-family="'Liberation Sans', sans-serif"> .38</text>
<path d="M515,0L515,1237L197,1010L197,1180L530,1409L696,1409L696,0Z" transform="translate(303.04 378.00) scale(0.00615 -0.00615)" fill="#2e2e2e" stroke="#2e2e2e" stroke-width="35.8"/>
<text x="120.72" y="394.30" font-size="13.8" fill="#2e2e2e" font-family="'Liberation Sans', sans-serif" textLength="123.53" lengthAdjust="spacingAndGlyphs">Refractive index (n)</text>
<text x="0" y="0" font-size="13.8" fill="#2e2e2e" font-family="'Liberation Sans', sans-serif" textLength="108.62" lengthAdjust="spacingAndGlyphs" transform="translate(11.35 356.47) rotate(-90)">Wavelength (nm)</text>
<text x="164.50" y="326.20" font-size="10.4" text-anchor="start" fill="#2e2e2e" font-family="'Liberation Sans', sans-serif" >Slope = </text>
<path d="M203.4,324.6 C205.0,321.8 206.6,321.8 207.3,323.3 C208.0,324.8 209.6,324.8 211.0,322.2" fill="none" stroke="#262626" stroke-width="0.85"/>
<text x="214.30" y="326.20" font-size="10.4" text-anchor="start" fill="#2e2e2e" font-family="'Liberation Sans', sans-serif" >996 nm/RIU</text>
<circle cx="247.5" cy="339.5" r="2.5" fill="#ff0000"/>
<text x="258.30" y="343.60" font-size="11.9" text-anchor="start" fill="#2e2e2e" font-family="'Liberation Sans', sans-serif" >simulation</text>
<line x1="238.10" y1="353.30" x2="257.60" y2="353.30" stroke="#2a2aff" stroke-width="1.0" />
<text x="258.30" y="357.40" font-size="11.9" text-anchor="start" fill="#2e2e2e" font-family="'Liberation Sans', sans-serif" >linear fit</text>
<text x="341.10" y="229.30" font-size="17" text-anchor="start" fill="#2e2e2e" font-family="'Liberation Sans', sans-serif" >(d)</text>
<line x1="381.30" y1="360.50" x2="652.60" y2="360.50" stroke="#8a8a8a" stroke-width="1.0" />
<line x1="381.30" y1="361.00" x2="381.30" y2="260.00" stroke="#8a8a8a" stroke-width="1.0" />
<line x1="652.60" y1="361.00" x2="652.60" y2="260.00" stroke="#8a8a8a" stroke-width="1.0" />
<line x1="381.30" y1="260.50" x2="652.60" y2="260.50" stroke="#8a8a8a" stroke-width="1.0" />
<line x1="381.30" y1="360.50" x2="381.30" y2="357.90" stroke="#8a8a8a" stroke-width="1.0" />
<line x1="381.30" y1="260.50" x2="381.30" y2="263.10" stroke="#8a8a8a" stroke-width="1.0" />
<line x1="432.98" y1="360.50" x2="432.98" y2="357.90" stroke="#8a8a8a" stroke-width="1.0" />
<line x1="432.98" y1="260.50" x2="432.98" y2="263.10" stroke="#8a8a8a" stroke-width="1.0" />
<line x1="484.65" y1="360.50" x2="484.65" y2="357.90" stroke="#8a8a8a" stroke-width="1.0" />
<line x1="484.65" y1="260.50" x2="484.65" y2="263.10" stroke="#8a8a8a" stroke-width="1.0" />
<line x1="536.33" y1="360.50" x2="536.33" y2="357.90" stroke="#8a8a8a" stroke-width="1.0" />
<line x1="536.33" y1="260.50" x2="536.33" y2="263.10" stroke="#8a8a8a" stroke-width="1.0" />
<line x1="588.00" y1="360.50" x2="588.00" y2="357.90" stroke="#8a8a8a" stroke-width="1.0" />
<line x1="588.00" y1="260.50" x2="588.00" y2="263.10" stroke="#8a8a8a" stroke-width="1.0" />
<line x1="639.68" y1="360.50" x2="639.68" y2="357.90" stroke="#8a8a8a" stroke-width="1.0" />
<line x1="639.68" y1="260.50" x2="639.68" y2="263.10" stroke="#8a8a8a" stroke-width="1.0" />
<line x1="381.30" y1="360.50" x2="383.90" y2="360.50" stroke="#8a8a8a" stroke-width="1.0" />
<line x1="652.60" y1="360.50" x2="650.00" y2="360.50" stroke="#8a8a8a" stroke-width="1.0" />
<line x1="381.30" y1="312.76" x2="383.90" y2="312.76" stroke="#8a8a8a" stroke-width="1.0" />
<line x1="652.60" y1="312.76" x2="650.00" y2="312.76" stroke="#8a8a8a" stroke-width="1.0" />
<line x1="381.30" y1="265.03" x2="383.90" y2="265.03" stroke="#8a8a8a" stroke-width="1.0" />
<line x1="652.60" y1="265.03" x2="650.00" y2="265.03" stroke="#8a8a8a" stroke-width="1.0" />
<path d="M384.8,265.1L388.9,265.5L394.6,266.6L396.1,267.0L396.9,267.6L397.6,268.5L398.1,269.7L398.6,271.9L398.9,274.7L399.3,279.2L399.8,290.1L400.3,310.0L401.1,352.3L401.3,359.8L401.4,360.4L401.8,349.9L402.4,314.7L402.9,293.9L403.4,282.3L404.1,275.3L404.4,273.2L404.9,271.4L405.4,270.4L406.2,269.5L410.2,266.7L411.6,265.8L413.1,265.3L414.9,265.1" fill="none" stroke="#1a1aff" stroke-width="1.1" stroke-linejoin="round" stroke-opacity="0.78"/>
<path d="M634.8,265.1L636.2,265.3L638.8,265.9L640.2,266.1L645.0,266.2L648.1,265.9L649.0,266.0L649.7,266.4L650.3,267.0L652.6,270.3" fill="none" stroke="#1a1aff" stroke-width="1.1" stroke-linejoin="round" stroke-opacity="0.78"/>
<path d="M409.9,265.1L412.1,265.2L414.2,265.5L419.6,266.6L421.2,267.1L422.1,267.7L422.7,268.6L423.2,269.8L423.7,272.0L424.1,274.7L424.4,279.1L425.1,293.3L426.2,349.6L426.6,360.4L426.7,360.0L426.9,353.4L427.7,313.6L428.2,293.7L428.7,282.4L429.3,275.5L429.7,273.3L430.2,271.6L430.7,270.5L431.4,269.5L435.2,266.8L436.7,265.9L438.3,265.3L440.2,265.1" fill="none" stroke="#2f8fd0" stroke-width="1.1" stroke-linejoin="round" stroke-opacity="0.78"/>
<path d="M435.3,265.1L437.6,265.2L439.8,265.6L444.9,266.6L446.6,267.1L447.4,267.8L448.1,268.8L448.6,270.1L449.1,272.4L449.4,275.2L449.8,279.8L450.4,294.1L451.6,349.2L451.9,360.3L452.1,360.2L452.3,354.6L453.6,295.7L454.1,283.8L454.4,278.6L454.8,275.4L455.2,273.3L455.7,271.6L456.3,270.3L457.1,269.4L460.6,266.8L462.2,265.8L463.8,265.3L465.7,265.1" fill="none" stroke="#f0b030" stroke-width="1.1" stroke-linejoin="round" stroke-opacity="0.78"/>
<path d="M464.9,265.1L467.2,265.2L469.3,265.5L474.4,266.6L476.1,267.1L476.9,267.7L477.6,268.6L478.1,269.8L478.6,271.8L478.9,274.4L479.3,278.4L479.9,291.2L480.4,310.4L481.2,350.6L481.6,360.4L481.7,359.9L481.9,353.4L483.2,294.8L483.7,283.3L484.1,278.3L484.4,275.2L484.8,273.1L485.3,271.5L485.9,270.3L486.7,269.4L490.2,266.8L491.7,265.9L493.3,265.3L495.2,265.1" fill="none" stroke="#9a40b8" stroke-width="1.1" stroke-linejoin="round" stroke-opacity="0.78"/>
<path d="M490.7,265.1L492.9,265.2L495.2,265.6L500.3,266.6L501.9,267.1L502.8,267.8L503.4,268.7L503.9,270.0L504.4,272.3L504.8,275.1L505.2,279.6L505.7,289.9L506.2,308.3L507.1,353.9L507.3,360.1L507.4,360.4L507.8,350.1L508.9,296.2L509.4,284.1L509.8,278.8L510.2,275.5L510.6,273.3L511.1,271.6L511.7,270.3L512.4,269.4L515.9,266.9L517.6,265.8L519.2,265.3L521.1,265.1" fill="none" stroke="#7ab030" stroke-width="1.1" stroke-linejoin="round" stroke-opacity="0.78"/>
<path d="M516.6,265.1L518.8,265.2L521.0,265.5L526.0,266.5L527.6,267.1L528.5,267.7L529.2,268.7L529.7,269.9L530.2,272.0L530.6,274.5L531.0,278.5L531.6,290.7L532.1,308.9L533.0,353.5L533.2,359.9L533.3,360.5L533.7,351.5L534.5,313.4L535.0,294.4L535.5,283.3L535.8,278.4L536.2,275.3L536.6,273.3L537.1,271.6L537.7,270.3L538.5,269.4L541.8,266.9L543.5,265.9L545.1,265.3L547.0,265.1" fill="none" stroke="#e040c0" stroke-width="1.1" stroke-linejoin="round" stroke-opacity="0.78"/>
<path d="M542.7,265.1L545.1,265.2L547.3,265.6L552.1,266.6L553.7,267.1L554.6,267.7L555.3,268.8L555.8,270.0L556.3,272.1L556.8,275.7L557.2,280.1L557.8,293.7L559.1,351.2L559.5,360.4L559.6,360.1L559.8,354.5L560.7,312.4L561.2,294.2L561.7,283.4L562.1,278.6L562.5,275.5L562.8,273.4L563.3,271.7L564.0,270.4L564.8,269.4L568.0,267.0L569.7,265.8L571.2,265.3L573.2,265.1" fill="none" stroke="#c04a78" stroke-width="1.1" stroke-linejoin="round" stroke-opacity="0.78"/>
<path d="M571.8,265.1L574.2,265.2L576.6,265.6L581.1,266.5L582.8,267.2L583.7,267.8L584.5,268.8L585.0,270.1L585.5,272.1L586.0,275.7L586.3,280.0L587.0,293.0L587.5,311.4L588.3,353.7L588.6,359.8L588.7,360.5L589.1,352.9L590.0,311.5L590.5,294.0L591.0,283.5L591.7,275.7L592.1,273.6L592.6,271.8L593.2,270.5L594.1,269.4L597.0,267.1L598.8,265.9L600.5,265.3L602.6,265.1" fill="none" stroke="#f07838" stroke-width="1.1" stroke-linejoin="round" stroke-opacity="0.78"/>
<path d="M598.1,265.1L600.5,265.2L602.8,265.6L607.2,266.5L609.0,267.1L610.0,267.9L610.7,269.0L611.2,270.3L611.7,272.4L612.2,276.0L612.6,280.3L613.2,293.1L613.7,310.9L614.6,352.4L615.0,360.4L615.1,360.1L615.3,354.8L616.3,309.6L617.0,290.2L617.3,283.2L617.8,277.5L618.3,274.2L619.1,271.6L620.1,269.8L621.6,268.4L624.7,266.1L625.8,265.6L627.0,265.3L630.1,265.1L652.6,265.0" fill="none" stroke="#f06a30" stroke-width="1.1" stroke-linejoin="round" stroke-opacity="0.78"/>
<path d="M381.3,265.0L622.0,265.0L625.1,265.1L627.5,265.4L630.6,266.0L633.3,266.8L634.5,267.3L635.3,268.0L636.0,268.8L636.6,270.2L637.1,271.9L637.5,273.8L638.2,280.4L638.7,288.4L639.1,297.2L640.5,350.6L640.7,357.6L641.0,360.5L641.2,358.6L641.5,352.6L642.5,312.5L643.0,297.0L643.6,284.8L644.2,278.0L644.6,275.5L645.1,273.3L645.6,271.8L646.3,270.3L647.6,268.8L649.6,267.0L651.1,266.0L652.6,265.4" fill="none" stroke="#ff2020" stroke-width="1.1" stroke-linejoin="round" stroke-opacity="0.88"/>
<text x="376.60" y="365.04" font-size="13.2" text-anchor="end" fill="#2e2e2e" font-family="'Liberation Sans', sans-serif" >0</text>
<text x="376.60" y="317.30" font-size="13.2" text-anchor="end" fill="#2e2e2e" font-family="'Liberation Sans', sans-serif" >50</text>
<text x="354.58" y="269.57" font-size="13.2" fill="#2e2e2e" font-family="'Liberation Sans', sans-serif"> 00</text>
<path d="M515,0L515,1237L197,1010L197,1180L530,1409L696,1409L696,0Z" transform="translate(354.58 269.57) scale(0.00645 -0.00645)" fill="#2e2e2e" stroke="#2e2e2e" stroke-width="34.1"/>
<text x="366.62" y="377.70" font-size="13.2" fill="#2e2e2e" font-family="'Liberation Sans', sans-serif"> 500</text>
<path d="M515,0L515,1237L197,1010L197,1180L530,1409L696,1409L696,0Z" transform="translate(366.62 377.70) scale(0.00645 -0.00645)" fill="#2e2e2e" stroke="#2e2e2e" stroke-width="34.1"/>
<text x="418.29" y="377.70" font-size="13.2" fill="#2e2e2e" font-family="'Liberation Sans', sans-serif"> 520</text>
<path d="M515,0L515,1237L197,1010L197,1180L530,1409L696,1409L696,0Z" transform="translate(418.29 377.70) scale(0.00645 -0.00645)" fill="#2e2e2e" stroke="#2e2e2e" stroke-width="34.1"/>
<text x="469.97" y="377.70" font-size="13.2" fill="#2e2e2e" font-family="'Liberation Sans', sans-serif"> 540</text>
<path d="M515,0L515,1237L197,1010L197,1180L530,1409L696,1409L696,0Z" transform="translate(469.97 377.70) scale(0.00645 -0.00645)" fill="#2e2e2e" stroke="#2e2e2e" stroke-width="34.1"/>
<text x="521.65" y="377.70" font-size="13.2" fill="#2e2e2e" font-family="'Liberation Sans', sans-serif"> 560</text>
<path d="M515,0L515,1237L197,1010L197,1180L530,1409L696,1409L696,0Z" transform="translate(521.65 377.70) scale(0.00645 -0.00645)" fill="#2e2e2e" stroke="#2e2e2e" stroke-width="34.1"/>
<text x="573.32" y="377.70" font-size="13.2" fill="#2e2e2e" font-family="'Liberation Sans', sans-serif"> 580</text>
<path d="M515,0L515,1237L197,1010L197,1180L530,1409L696,1409L696,0Z" transform="translate(573.32 377.70) scale(0.00645 -0.00645)" fill="#2e2e2e" stroke="#2e2e2e" stroke-width="34.1"/>
<text x="625.00" y="377.70" font-size="13.2" fill="#2e2e2e" font-family="'Liberation Sans', sans-serif"> 600</text>
<path d="M515,0L515,1237L197,1010L197,1180L530,1409L696,1409L696,0Z" transform="translate(625.00 377.70) scale(0.00645 -0.00645)" fill="#2e2e2e" stroke="#2e2e2e" stroke-width="34.1"/>
<text x="461.73" y="394.60" font-size="13.9" fill="#2e2e2e" font-family="'Liberation Sans', sans-serif" textLength="111.45" lengthAdjust="spacingAndGlyphs">Wavelength (nm)</text>
<text x="0" y="0" font-size="13.9" fill="#2e2e2e" font-family="'Liberation Sans', sans-serif" textLength="37.07" lengthAdjust="spacingAndGlyphs" transform="translate(349.30 328.40) rotate(-90)">R (%)</text>
<line x1="381.60" y1="238.20" x2="381.60" y2="260.50" stroke="#555555" stroke-width="1.1" />
<line x1="467.60" y1="238.20" x2="467.60" y2="260.50" stroke="#555555" stroke-width="1.1" />
<line x1="574.90" y1="238.20" x2="574.90" y2="260.50" stroke="#555555" stroke-width="1.1" />
<line x1="652.50" y1="238.20" x2="652.50" y2="260.50" stroke="#555555" stroke-width="1.1" />
<line x1="385.60" y1="255.60" x2="463.60" y2="255.60" stroke="#3a3a3a" stroke-width="1.1" />
<polygon points="382.20,255.6 386.80,252.60 386.80,258.60" fill="#111"/>
<polygon points="467.00,255.6 462.40,252.60 462.40,258.60" fill="#111"/>
<text x="394.60" y="251.50" font-size="11.9" text-anchor="start" fill="#2e2e2e" font-family="'Liberation Serif', serif" >Λ</text>
<text x="406.20" y="251.50" font-size="11.9" text-anchor="start" fill="#2e2e2e" font-family="'Liberation Sans', sans-serif" >= 862 nm</text>
<line x1="471.60" y1="255.60" x2="570.90" y2="255.60" stroke="#3a3a3a" stroke-width="1.1" />
<polygon points="468.20,255.6 472.80,252.60 472.80,258.60" fill="#111"/>
<polygon points="574.30,255.6 569.70,252.60 569.70,258.60" fill="#111"/>
<text x="491.25" y="251.50" font-size="11.9" text-anchor="start" fill="#2e2e2e" font-family="'Liberation Serif', serif" >Λ</text>
<text x="502.85" y="251.50" font-size="11.9" text-anchor="start" fill="#2e2e2e" font-family="'Liberation Sans', sans-serif" >= 872 nm</text>
<line x1="578.90" y1="255.60" x2="648.50" y2="255.60" stroke="#3a3a3a" stroke-width="1.1" />
<polygon points="575.50,255.6 580.10,252.60 580.10,258.60" fill="#111"/>
<polygon points="651.90,255.6 647.30,252.60 647.30,258.60" fill="#111"/>
<text x="583.70" y="251.50" font-size="11.9" text-anchor="start" fill="#2e2e2e" font-family="'Liberation Serif', serif" >Λ</text>
<text x="595.30" y="251.50" font-size="11.9" text-anchor="start" fill="#2e2e2e" font-family="'Liberation Sans', sans-serif" >= 882 nm</text></svg>
</body></html>
